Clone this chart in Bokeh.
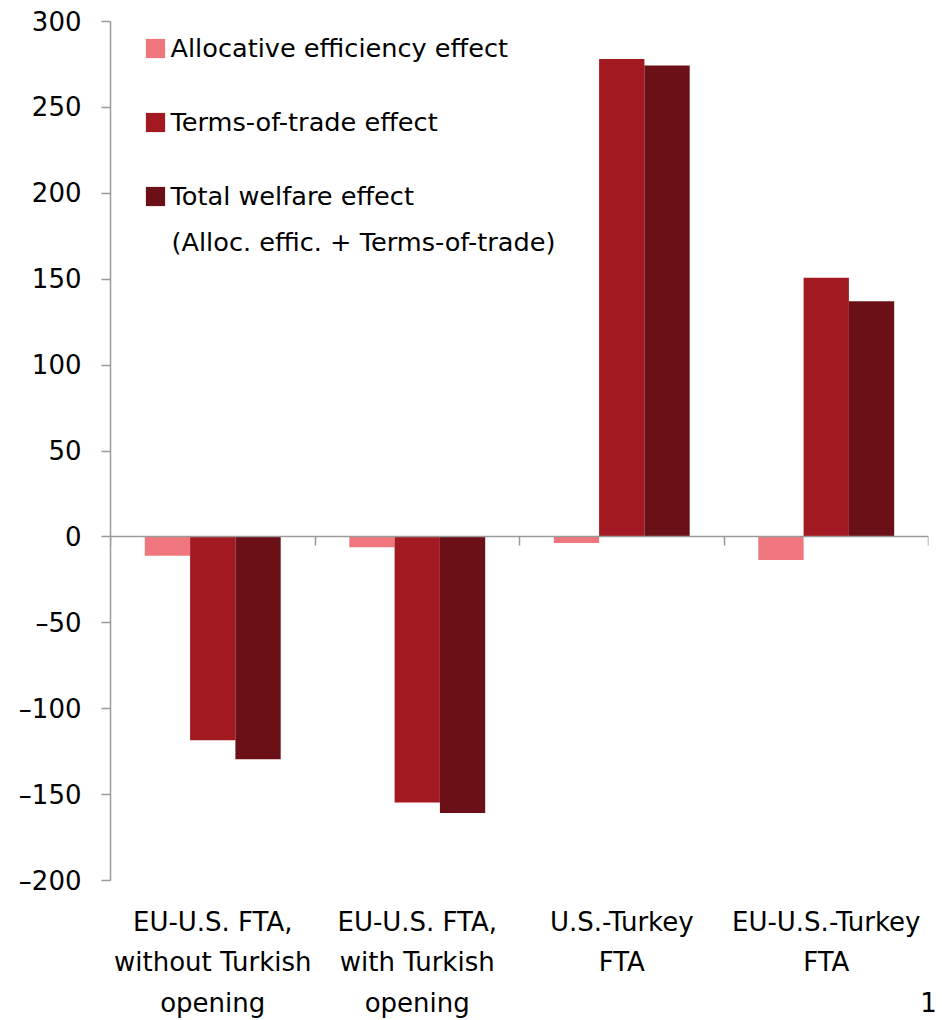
from bokeh.plotting import figure
from bokeh.models import (Range1d, LinearAxis, FixedTicker, Legend, LegendItem,
                          Label, ColumnDataSource)
from bokeh.transform import dodge
from bokeh.embed import file_html
from bokeh.resources import INLINE

# Welfare effects by trade scenario
categories = [
    "EU-U.S. FTA,\nwithout Turkish\nopening",
    "EU-U.S. FTA,\nwith Turkish\nopening",
    "U.S.-Turkey\nFTA",
    "EU-U.S.-Turkey\nFTA",
]
alloc_eff = [-11.0, -6.0, -3.6, -13.5]
terms_of_trade = [-118.3, -154.6, 278.1, 150.9]
total_welfare = [-129.4, -160.7, 274.4, 137.2]

y_ticks = [-200, -150, -100, -50, 0, 50, 100, 150, 200, 250, 300]
y_tick_labels = ["–200", "–150", "–100", "–50", "0", "50", "100", "150", "200", "250", "300"]
series_labels = [
    "Allocative efficiency effect",
    "Terms-of-trade effect",
    "Total welfare effect",
]
total_note = "(Alloc. effic. + Terms-of-trade)"
page_number = "1"

FONT = "DejaVu Sans"
COLORS = ["#ef767c", "#a31921", "#6b1016"]
BAR_W = 0.2215
AXIS_COLOR = "#9a9a9a"

pos = [i + 0.5 for i in range(len(categories))]
src = ColumnDataSource(dict(x=pos, alloc=alloc_eff, tot=terms_of_trade, total=total_welfare))

p = figure(width=942, height=1020, x_range=Range1d(0, len(categories)),
           y_range=Range1d(-200, 300), output_backend="svg", toolbar_location=None,
           x_axis_location=None, y_axis_location=None,
           min_border_left=110, min_border_right=14, min_border_top=21,
           min_border_bottom=0)
p.outline_line_color = None
p.xgrid.visible = False
p.ygrid.visible = False
p.background_fill_color = "white"
p.border_fill_color = "white"

renderers = []
for col, off, color in zip(["alloc", "tot", "total"], [-BAR_W, 0, BAR_W], COLORS):
    r = p.vbar(x=dodge("x", off, range=p.x_range), top=col, bottom=0, width=BAR_W,
               source=src, fill_color=color, line_color=None)
    renderers.append(r)

# value axis
yaxis = LinearAxis(ticker=FixedTicker(ticks=y_ticks))
yaxis.axis_line_color = AXIS_COLOR
yaxis.axis_line_width = 1.5
yaxis.major_tick_line_color = AXIS_COLOR
yaxis.major_tick_line_width = 1.5
yaxis.major_tick_out = 9
yaxis.major_tick_in = 0
yaxis.minor_tick_line_color = None
yaxis.major_label_overrides = {t: s for t, s in zip(y_ticks, y_tick_labels)}
yaxis.major_label_standoff = 20
yaxis.major_label_text_font = FONT
yaxis.major_label_text_font_size = "26px"
yaxis.major_label_text_color = "black"
p.add_layout(yaxis, "left")

# zero line with category separators
zero_axis = LinearAxis(ticker=FixedTicker(ticks=list(range(len(categories) + 1))),
                       fixed_location=0)
zero_axis.axis_line_color = AXIS_COLOR
zero_axis.axis_line_width = 1.5
zero_axis.major_tick_line_color = AXIS_COLOR
zero_axis.major_tick_line_width = 1.5
zero_axis.major_tick_in = 9
zero_axis.major_tick_out = 0
zero_axis.minor_tick_line_color = None
zero_axis.major_label_overrides = {i: "" for i in range(len(categories) + 1)}
zero_axis.major_label_text_font_size = "1px"
zero_axis.major_label_standoff = 0
p.add_layout(zero_axis, "above")

# category labels (plus the page number in the bottom-right corner)
cat_ticks = pos + [len(categories)]
cat_texts = categories + ["\n\n" + page_number]
cat_axis = LinearAxis(ticker=FixedTicker(ticks=cat_ticks))
cat_axis.axis_line_color = None
cat_axis.major_tick_line_color = None
cat_axis.minor_tick_line_color = None
cat_axis.major_label_overrides = {x: c for x, c in zip(cat_ticks, cat_texts)}
cat_axis.major_label_text_font = FONT
cat_axis.major_label_text_font_size = "26px"
cat_axis.major_label_text_color = "black"
cat_axis.major_label_text_line_height = 1.35
cat_axis.major_label_standoff = 20
p.add_layout(cat_axis, "below")

legend = Legend(items=[LegendItem(label=l, renderers=[r]) for l, r in zip(series_labels, renderers)],
                location=(32.5, 669), orientation="vertical")
legend.glyph_width = 24
legend.glyph_height = 24
legend.label_height = 30
legend.spacing = 44
legend.padding = 0
legend.margin = 0
legend.label_standoff = 4
legend.label_text_font = FONT
legend.label_text_font_size = "25.6px"
legend.label_text_color = "black"
legend.border_line_color = None
legend.background_fill_alpha = 0
p.add_layout(legend, "center")

# second line of the total-effect legend entry
note = Label(x=0.2983, y=171.4, text=total_note, text_font=FONT,
             text_font_size="25.6px", text_color="black", text_align="left",
             text_baseline="alphabetic")
p.add_layout(note)

open("out.html", "w").write(file_html(p, INLINE))
